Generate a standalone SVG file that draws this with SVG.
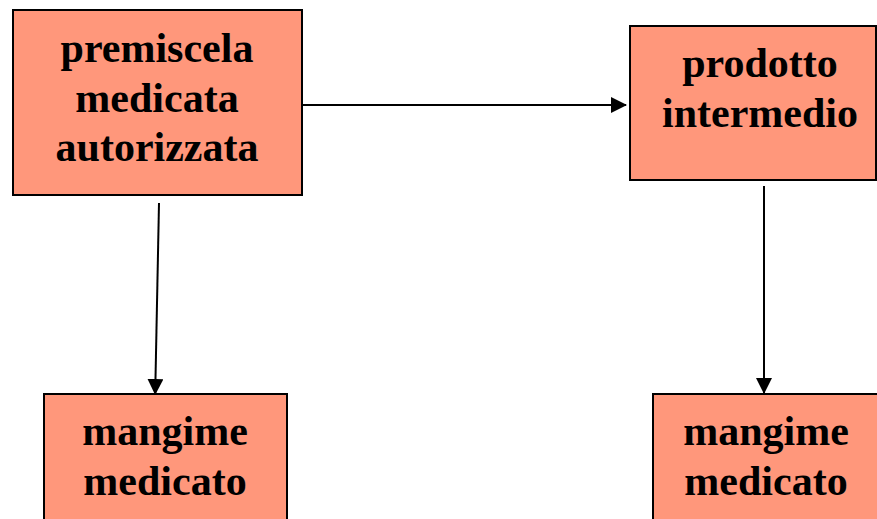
<svg xmlns="http://www.w3.org/2000/svg" width="877" height="519" viewBox="0 0 877 519">
  <style>
    .box { fill: #FF977B; stroke: #000; stroke-width: 2; }
    .label { font-family: "Liberation Serif", "Times New Roman", serif; font-weight: bold; font-size: 42px; fill: #000; text-anchor: middle; }
    .edge { stroke: #000; stroke-width: 2; fill: none; marker-end: url(#arrow); }
  </style>
  <defs>
    <marker id="arrow" viewBox="0 0 16 16" refX="15" refY="8" markerWidth="16" markerHeight="16" markerUnits="userSpaceOnUse" orient="auto">
      <path d="M0,0 L16,8 L0,16 Z" fill="#000"/>
    </marker>
  </defs>

  <rect width="877" height="519" fill="#fff"/>

  <!-- connectors -->
  <g id="connectors">
    <line class="edge" x1="301" y1="105" x2="626" y2="105"/>
    <line class="edge" x1="159" y1="203" x2="155.2" y2="394"/>
    <line class="edge" x1="764" y1="186" x2="764" y2="393"/>
  </g>

  <g id="node-premiscela">
    <rect class="box" x="13" y="10" width="289" height="185"/>
    <text class="label" x="157" y="62">premiscela</text>
    <text class="label" x="157" y="112">medicata</text>
    <text class="label" x="157" y="161">autorizzata</text>
  </g>

  <g id="node-prodotto">
    <rect class="box" x="630" y="26" width="246" height="154"/>
    <text class="label" x="760" y="77">prodotto</text>
    <text class="label" x="760" y="127">intermedio</text>
  </g>

  <g id="node-mangime-left">
    <rect class="box" x="44" y="394" width="243" height="140"/>
    <text class="label" x="165" y="445">mangime</text>
    <text class="label" x="165" y="495">medicato</text>
  </g>

  <g id="node-mangime-right">
    <rect class="box" x="653" y="394" width="250" height="140"/>
    <text class="label" x="766" y="445">mangime</text>
    <text class="label" x="766" y="495">medicato</text>
  </g>
</svg>
